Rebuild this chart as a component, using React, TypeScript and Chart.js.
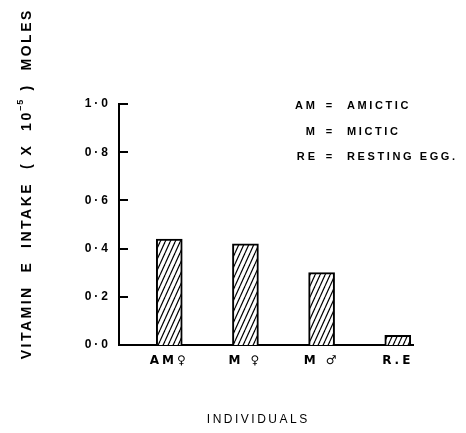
import React, { useEffect, useRef } from 'react';
import { Chart, registerables } from 'chart.js';

Chart.register(...registerables);

// ---- data ----
const categories = ['AM♀', 'M ♀', 'M ♂', 'R.E'];
const intake = [0.44, 0.42, 0.30, 0.04];
const yTicks = [0, 0.2, 0.4, 0.6, 0.8, 1.0];
const legendKeys = ['AM', 'M', 'RE'];
const legendMeanings = ['AMICTIC', 'MICTIC', 'RESTING EGG.'];
const xTitle = 'INDIVIDUALS';
const yTitleParts = ['VITAMIN  E  INTAKE  ( X  10', '–5', ' )  MOLES'];

const FONT = "'Liberation Sans', Arial, sans-serif";
const SYMFONT = "'DejaVu Sans', 'Liberation Sans', sans-serif";

function spacedWidth(ctx: CanvasRenderingContext2D, text: string, ls: number) {
  (ctx as any).letterSpacing = '0px';
  const w = ctx.measureText(text).width;
  return w + ls * Math.max(0, Array.from(text).length - 1);
}

function drawSpaced(
  ctx: CanvasRenderingContext2D,
  text: string,
  x: number,
  y: number,
  align: 'left' | 'center' | 'right',
  ls: number
) {
  const w = spacedWidth(ctx, text, ls);
  const sx = align === 'center' ? x - w / 2 : align === 'right' ? x - w : x;
  (ctx as any).letterSpacing = ls + 'px';
  ctx.textAlign = 'left';
  ctx.fillText(text, sx, y);
  (ctx as any).letterSpacing = '0px';
}

function makeHatch(): CanvasPattern | string {
  const c = document.createElement('canvas');
  const w = 5;
  const h = 11;
  c.width = w;
  c.height = h;
  const g = c.getContext('2d');
  if (!g) return '#fff';
  g.fillStyle = '#fff';
  g.fillRect(0, 0, w, h);
  g.strokeStyle = '#000';
  g.lineWidth = 1.2;
  for (let k = -1; k <= 1; k++) {
    g.beginPath();
    g.moveTo(k * w, h);
    g.lineTo(k * w + w, 0);
    g.stroke();
  }
  const p = g.createPattern(c, 'repeat');
  return p || '#fff';
}

const decorPlugin = {
  id: 'decor',
  beforeDraw(chart: any) {
    const ctx = chart.ctx;
    ctx.save();
    ctx.fillStyle = '#fff';
    ctx.fillRect(0, 0, chart.width, chart.height);
    ctx.restore();
    ctx.letterSpacing = '3px';
  },
  afterDraw(chart: any) {
    const ctx: CanvasRenderingContext2D = chart.ctx;
    const { chartArea, scales } = chart;
    const y = scales.y;
    ctx.save();
    (ctx as any).letterSpacing = '0px';

    // inward tick marks on the y axis
    ctx.strokeStyle = '#000';
    ctx.lineWidth = 2;
    yTicks.forEach((v) => {
      const py = Math.round(y.getPixelForValue(v));
      ctx.beginPath();
      ctx.moveTo(chartArea.left, py);
      ctx.lineTo(chartArea.left + 9, py);
      ctx.stroke();
    });

    // key (upper right)
    ctx.fillStyle = '#000';
    ctx.font = `bold 11px ${FONT}`;
    ctx.textBaseline = 'middle';
    const top = y.getPixelForValue(1);
    legendKeys.forEach((k, i) => {
      const ly = top + 2 + i * 25.5;
      drawSpaced(ctx, k, 315, ly, 'right', 3);
      drawSpaced(ctx, '=', 329, ly, 'center', 0);
      drawSpaced(ctx, legendMeanings[i], 347, ly, 'left', 2.6);
    });

    // x title
    ctx.font = `12px ${FONT}`;
    drawSpaced(ctx, xTitle, 257, 420, 'center', 2.5);

    // y title (rotated)
    ctx.save();
    ctx.translate(27, 185);
    ctx.rotate(-Math.PI / 2);
    ctx.font = `bold 14px ${FONT}`;
    const w1 = spacedWidth(ctx, yTitleParts[0], 2.5);
    const w3 = spacedWidth(ctx, yTitleParts[2], 2.5);
    ctx.font = `bold 9px ${FONT}`;
    const w2 = spacedWidth(ctx, yTitleParts[1], 1);
    const total = w1 + 2 + w2 + 3 + w3;
    let sx = -total / 2;
    ctx.font = `bold 14px ${FONT}`;
    drawSpaced(ctx, yTitleParts[0], sx, 0, 'left', 2.5);
    sx += w1 + 2;
    ctx.font = `bold 9px ${FONT}`;
    drawSpaced(ctx, yTitleParts[1], sx, -6.5, 'left', 1);
    sx += w2 + 3;
    ctx.font = `bold 14px ${FONT}`;
    drawSpaced(ctx, yTitleParts[2], sx, 0, 'left', 2.5);
    ctx.restore();

    ctx.restore();
  },
};

export default function App() {
  const ref = useRef<HTMLCanvasElement | null>(null);

  useEffect(() => {
    const canvas = ref.current;
    if (!canvas) return;
    const hatch = makeHatch();
    const chart = new Chart(canvas, {
      type: 'bar',
      data: {
        datasets: [
          {
            data: categories.map((_, i) => ({ x: i + 1, y: intake[i] })),
            backgroundColor: hatch as any,
            borderColor: '#000',
            borderWidth: 2,
            barThickness: 26,
          },
        ],
      },
      options: {
        responsive: false,
        animation: false,
        layout: { padding: { left: 0, top: 104, right: 53, bottom: 0 } },
        plugins: {
          legend: { display: false },
          tooltip: { enabled: false },
          title: { display: false },
        },
        scales: {
          x: {
            type: 'linear',
            offset: false,
            min: 0.34,
            max: 4.2,
            grid: { display: false, drawTicks: false, offset: false },
            border: { display: true, color: '#000', width: 2 },
            afterBuildTicks: (s: any) => {
              s.ticks = categories.map((_, i) => ({ value: i + 1 }));
            },
            afterFit: (s: any) => {
              s.height = 88;
            },
            ticks: {
              autoSkip: false,
              maxRotation: 0,
              color: '#000',
              padding: 9,
              font: { family: SYMFONT, size: 12, weight: 'bold' },
              callback: (v: any) => categories[Math.round(Number(v)) - 1] ?? '',
            },
          },
          y: {
            type: 'linear',
            min: 0,
            max: 1,
            grid: { display: false, drawTicks: false },
            border: { display: true, color: '#000', width: 2 },
            afterBuildTicks: (s: any) => {
              s.ticks = yTicks.map((v) => ({ value: v }));
            },
            afterFit: (s: any) => {
              s.width = 119;
            },
            ticks: {
              color: '#000',
              padding: 8,
              font: { family: FONT, size: 12, weight: 'bold' },
              callback: (v: any) => Number(v).toFixed(1).replace('.', '·'),
            },
          },
        },
      } as any,
      plugins: [decorPlugin],
    });
    return () => chart.destroy();
  }, []);

  return (
    <div style={{ position: 'absolute', left: 0, top: 0, width: 466, height: 433, background: '#fff' }}>
      <canvas ref={ref} width={466} height={433} style={{ display: 'block' }} />
    </div>
  );
}
